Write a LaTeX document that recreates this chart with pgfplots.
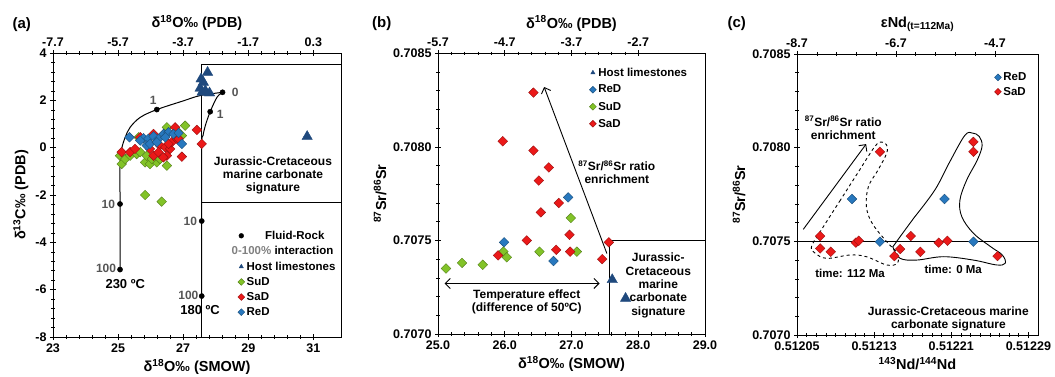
\documentclass[border=0pt]{standalone}
\usepackage{fontspec}
\setmainfont{Liberation Sans}
\usepackage{pgfplots}
\pgfplotsset{compat=1.18}
\usetikzlibrary{arrows.meta}
\definecolor{cSuD}{RGB}{130,195,40}
\definecolor{cSaD}{RGB}{235,25,25}
\definecolor{cReD}{RGB}{40,120,190}
\definecolor{cHost}{RGB}{31,73,125}
\definecolor{numgray}{RGB}{85,85,85}
\pgfplotsset{
  base/.style={scale only axis, anchor=south west,
    axis line style={line width=0.9pt}, tick style={black, line width=0.6pt},
    major tick length=6pt, minor tick length=3.5pt, tick align=center,
    tick label style={font=\fontsize{12.5}{14}\selectfont\bfseries},
    label style={font=\fontsize{14.5}{16}\selectfont\bfseries},
    minor x tick num=4, minor y tick num=4,
    legend cell align=left,
    legend image post style={mark size=2.4pt},
  },
  sud/.style={only marks, mark=square*, mark size=3.4pt, mark options={rotate=45, fill=cSuD, draw=cSuD!65!black, line width=0.4pt}},
  sad/.style={only marks, mark=square*, mark size=3.4pt, mark options={rotate=45, fill=cSaD, draw=cSaD!65!black, line width=0.4pt}},
  red/.style={only marks, mark=square*, mark size=3.4pt, mark options={rotate=45, fill=cReD, draw=cReD!65!black, line width=0.4pt}},
  host/.style={only marks, mark=triangle*, mark size=6pt, mark options={fill=cHost, draw=cHost}},
}
\tikzset{ann/.style={font=\fontsize{12}{13.3}\selectfont\bfseries, align=center, inner sep=0pt},
  numlab/.style={font=\fontsize{12}{13}\selectfont\bfseries, text=numgray, inner sep=0pt},
  arr/.style={line width=0.9pt, -{Straight Barb[length=5pt,width=10pt]}}}
\begin{document}
\begin{tikzpicture}
\useasboundingbox (0,0) rectangle (1055pt,376pt);
% ---------------- panel (a)
\begin{axis}[base, at={(53pt,39pt)}, width=288pt, height=284pt,
  xmin=23, xmax=31.85, ymin=-8, ymax=4,
  xtick={23,25,27,29,31}, xticklabels={23,25,27,29,31},
  ytick={-8,-6,-4,-2,0,2,4}, yticklabels={-8,-6,-4,-2,0,2,4},
  tick pos=left,
  xlabel={δ\textsuperscript{18}O‰ (SMOW)}, ylabel={δ\textsuperscript{13}C‰ (PDB)},
  legend style={at={(0.62,0.385)}, anchor=north west, draw=none, fill=none,
    font=\fontsize{11.5}{12}\selectfont\bfseries, row sep=1.6pt, inner sep=1pt}]
\addplot[black, line width=1pt, forget plot] coordinates {(27.57,-8) (27.57,3.53) (31.85,3.53)};
\addplot[black, line width=1pt, forget plot] coordinates {(27.57,-2.3) (31.85,-2.3)};
\addplot[black, line width=1pt, smooth, tension=0.55, forget plot] coordinates {
 (28.21,2.34) (27.52,2.20) (27.01,1.98) (26.19,1.61) (25.68,1.28) (25.37,0.86) (25.22,0.44) (25.11,-0.05) (25.06,-0.76) (25.06,-2.38) (25.06,-5.15)};
\addplot[black, line width=1pt, smooth, tension=0.55, forget plot] coordinates {
 (28.21,2.34) (28.04,2.13) (27.83,1.52) (27.68,0.93) (27.61,0.51) (27.57,0.09) (27.57,-3.1) (27.57,-6.27)};
\addplot[only marks, mark=*, mark size=2.6pt, black] coordinates {
 (28.21,2.34) (26.19,1.61) (27.83,1.52) (25.06,-2.38) (25.06,-5.15) (27.57,-3.1) (27.57,-6.27)};
\addlegendentry{\hspace{1.6em}Fluid-Rock}
\addlegendimage{empty legend}
\addlegendentry{\hspace*{-15pt}{\color{gray}0-100\%} interaction\rule[-6pt]{0pt}{6pt}}
\addplot[host] coordinates {(27.75,3.18) (27.55,2.90) (27.62,2.76) (27.52,2.51) (27.68,2.41) (27.81,2.31) (27.58,2.34) (30.81,0.47)};
\addlegendentry{Host limestones}
\addplot[sud] coordinates {(25.06,-0.34) (25.11,-0.69) (25.22,-0.48) (25.37,-0.34) (25.57,-0.27) (25.68,-0.19) (25.83,-0.62) (25.98,-0.69) (26.19,-0.62) (26.50,-0.76) (26.50,0.86) (27.06,0.93) (26.81,0.72) (25.83,-2.0) (26.34,-2.28) (25.88,-0.34) (26.04,-0.48) (26.29,-0.48) (25.63,0.44) (26.96,0.51)};
\addlegendentry{SuD}
\addplot[sad] coordinates {(25.11,-0.19) (25.37,-0.19) (25.52,-0.05) (25.68,0.44) (25.98,-0.05) (26.09,-0.34) (26.29,0.09) (26.45,0.02) (26.60,-0.05) (26.65,0.23) (26.75,0.86) (26.81,0.37) (26.50,-0.34) (26.39,-0.41) (26.96,-0.38) (27.42,0.75) (27.57,0.16) (26.09,0.58) (26.55,0.16) (26.86,0.37) (26.24,-0.19)};
\addlegendentry{SaD}
\addplot[red] coordinates {(25.35,0.44) (25.78,0.40) (25.93,0.37) (26.09,0.48) (26.24,0.37) (26.40,0.58) (26.55,0.65) (26.70,0.58) (26.86,0.62) (25.88,0.09) (25.98,0.16) (26.19,0.23) (26.96,0.16) (25.68,0.30) (26.45,0.44)};
\addlegendentry{ReD}
\node[numlab] at (axis cs:26.08,1.98) {1};
\node[numlab] at (axis cs:28.6,2.34) {0};
\node[numlab] at (axis cs:28.14,1.42) {1};
\node[numlab] at (axis cs:24.70,-2.38) {10};
\node[numlab] at (axis cs:24.63,-5.12) {100};
\node[numlab] at (axis cs:27.22,-3.1) {10};
\node[numlab] at (axis cs:27.16,-6.24) {100};
\node[ann, font=\fontsize{13}{14}\selectfont\bfseries] at (axis cs:25.22,-5.76) {230 ºC};
\node[ann, font=\fontsize{13}{14}\selectfont\bfseries] at (axis cs:27.52,-6.85) {180 ºC};
\node[ann] at (axis cs:29.76,-1.18) {Jurassic-Cretaceous\\marine carbonate\\signature};
\end{axis}
\begin{axis}[base, at={(53pt,39pt)}, width=288pt, height=284pt,
  xmin=-7.7, xmax=1.15, ymin=0, ymax=1, axis x line*=top, axis y line=none,
  xtick={-7.7,-5.7,-3.7,-1.7,0.3}, xticklabels={-7.7,-5.7,-3.7,-1.7,0.3},
  xlabel={δ\textsuperscript{18}O‰ (PDB)}]
\addplot[draw=none] coordinates {(0,0.5)};
\end{axis}
\node[font=\fontsize{15}{16}\selectfont\bfseries] at (21.7pt,351pt) {(a)};
% ---------------- panel (b)
\begin{axis}[base, at={(438pt,42pt)}, width=267pt, height=280.7pt,
  xmin=25, xmax=29, ymin=0.7070, ymax=0.7085,
  xtick={25,26,27,28,29}, xticklabels={25.0,26.0,27.0,28.0,29.0},
  ytick={0.7070,0.7075,0.7080,0.7085}, yticklabels={0.7070,0.7075,0.7080,0.7085},
  tick pos=left,
  xlabel={δ\textsuperscript{18}O‰ (SMOW)}, ylabel={\textsuperscript{87}Sr/\textsuperscript{86}Sr},
  legend style={at={(0.945,0.96)}, anchor=north east, draw=none, fill=none,
    font=\fontsize{11.5}{12}\selectfont\bfseries, row sep=3.5pt, inner sep=1pt}]
\addplot[black, line width=1pt, forget plot] coordinates {(27.57,0.7070) (27.57,0.7075) (29,0.7075)};
\addplot[arr, forget plot] coordinates {(27.53,0.70743) (26.59,0.70832)};
\addplot[line width=0.9pt, {Straight Barb[length=5pt,width=10pt]}-{Straight Barb[length=5pt,width=10pt]}, forget plot] coordinates {(25.10,0.70727) (27.42,0.70727)};
\addplot[host] coordinates {(27.61,0.70729) (27.81,0.70719)};
\addlegendentry{Host limestones}
\addplot[red] coordinates {(26.95,0.70773) (25.99,0.70749) (26.73,0.70739)};
\addlegendentry{ReD}
\addplot[sud] coordinates {(25.12,0.70735) (25.36,0.70738) (25.67,0.70737) (25.98,0.70744) (26.03,0.70741) (26.52,0.70744) (26.99,0.70762) (27.08,0.70744)};
\addlegendentry{SuD}
\addplot[sad] coordinates {(26.43,0.70829) (25.97,0.70803) (26.43,0.70798) (26.66,0.70789) (26.51,0.70782) (26.81,0.70770) (26.54,0.70765) (26.97,0.70753) (26.33,0.70750) (26.77,0.70745) (26.98,0.70744) (25.90,0.70742) (27.46,0.70740) (27.56,0.70749)};
\addlegendentry{SaD}
\node[ann] at (axis cs:27.68,0.707865) {\textsuperscript{87}Sr/\textsuperscript{86}Sr ratio\\enrichment};
\node[ann] at (axis cs:26.33,0.70717) {Temperature effect\\(difference of 50ºC)};
\node[ann] at (axis cs:28.30,0.70726) {Jurassic-\\Cretaceous\\marine\\carbonate\\signature};
\end{axis}
\begin{axis}[base, at={(438pt,42pt)}, width=267pt, height=280.7pt,
  xmin=-5.7, xmax=-1.7, ymin=0, ymax=1, axis x line*=top, axis y line=none,
  xtick={-5.7,-4.7,-3.7,-2.7}, xticklabels={-5.7,-4.7,-3.7,-2.7},
  xlabel={δ\textsuperscript{18}O‰ (PDB)}]
\addplot[draw=none] coordinates {(-4,0.5)};
\end{axis}
\node[font=\fontsize{15}{16}\selectfont\bfseries] at (381.7pt,352.7pt) {(b)};
% ---------------- panel (c)
\begin{axis}[base, at={(797pt,41pt)}, width=241pt, height=281pt,
  xmin=0.51205, xmax=0.51230, ymin=0.7070, ymax=0.7085,
  xtick={0.51205,0.51213,0.51221,0.51229}, xticklabels={0.51205,0.51213,0.51221,0.51229},
  minor x tick num=7,
  ytick={0.7070,0.7075,0.7080,0.7085}, yticklabels={0.7070,0.7075,0.7080,0.7085},
  tick pos=left,
  xlabel={\textsuperscript{143}Nd/\textsuperscript{144}Nd}, ylabel={\textsuperscript{87}Sr/\textsuperscript{86}Sr},
  legend style={at={(0.965,0.945)}, anchor=north east, draw=none, fill=none,
    font=\fontsize{11.5}{12}\selectfont\bfseries, row sep=1pt, inner sep=1pt}]
\addplot[black, line width=1pt, forget plot] coordinates {(0.51205,0.7075) (0.51230,0.7075)};
\addplot[black, line width=0.9pt, dashed, smooth, tension=0.6, forget plot] coordinates {
 (0.512095,0.707720) (0.512074,0.707551) (0.512065,0.707471) (0.512069,0.707436) (0.512081,0.707409) (0.512105,0.707427) (0.512122,0.707418) (0.512143,0.707374) (0.512154,0.707383) (0.512154,0.707436) (0.512143,0.707498) (0.512128,0.707596) (0.512122,0.707685) (0.512124,0.707791) (0.512134,0.707880) (0.512143,0.707970) (0.512143,0.708014) (0.512138,0.708030) (0.512131,0.708008) (0.512113,0.707865) (0.512095,0.707720)};
\addplot[black, line width=0.9pt, smooth, tension=0.6, forget plot] coordinates {
 (0.512172,0.707630) (0.512152,0.707489) (0.512150,0.707463) (0.512157,0.707409) (0.512174,0.707400) (0.512202,0.707418) (0.512233,0.707400) (0.512257,0.707374) (0.512266,0.707383) (0.512263,0.707427) (0.512251,0.707471) (0.512233,0.707543) (0.512221,0.707631) (0.512219,0.707720) (0.512226,0.707827) (0.512237,0.707934) (0.512242,0.708010) (0.512239,0.708060) (0.512232,0.708078) (0.512224,0.708065) (0.512208,0.707920) (0.512193,0.707774) (0.512172,0.707630)};
\addplot[arr, forget plot] coordinates {(0.5120565,0.707564) (0.5121217,0.708019)};
\addplot[red] coordinates {(0.512107,0.707726) (0.512136,0.707498) (0.512203,0.707726) (0.512233,0.707498)};
\addlegendentry{ReD}
\addplot[sad] coordinates {(0.512074,0.707528) (0.512074,0.707462) (0.512085,0.707444) (0.512111,0.707493) (0.512114,0.707503) (0.512151,0.707421) (0.512157,0.707459) (0.512168,0.707528) (0.512178,0.707444) (0.512197,0.707493) (0.512206,0.707503) (0.512258,0.707421) (0.512136,0.707978) (0.512233,0.708031) (0.512233,0.707978)};
\addlegendentry{SaD}
\node[ann] at (axis cs:0.512098,0.708105) {\textsuperscript{87}Sr/\textsuperscript{86}Sr ratio\\enrichment};
\node[ann, font=\fontsize{11.5}{12}\selectfont\bfseries] at (axis cs:0.512105,0.707329) {time: 112 Ma};
\node[ann, font=\fontsize{11.5}{12}\selectfont\bfseries] at (axis cs:0.512212,0.707351) {time: 0 Ma};
\node[ann] at (axis cs:0.512207,0.707085) {Jurassic-Cretaceous marine\\carbonate signature};
\end{axis}
\begin{axis}[base, at={(797pt,41pt)}, width=241pt, height=281pt,
  xmin=-8.7, xmax=-3.83, ymin=0, ymax=1, axis x line*=top, axis y line=none,
  xtick={-8.7,-6.7,-4.7}, xticklabels={-8.7,-6.7,-4.7},
  xlabel={εNd\textsubscript{(t=112Ma)}}]
\addplot[draw=none] coordinates {(-6,0.5)};
\end{axis}
\node[font=\fontsize{15}{16}\selectfont\bfseries] at (736.7pt,352.7pt) {(c)};
\end{tikzpicture}
\end{document}
